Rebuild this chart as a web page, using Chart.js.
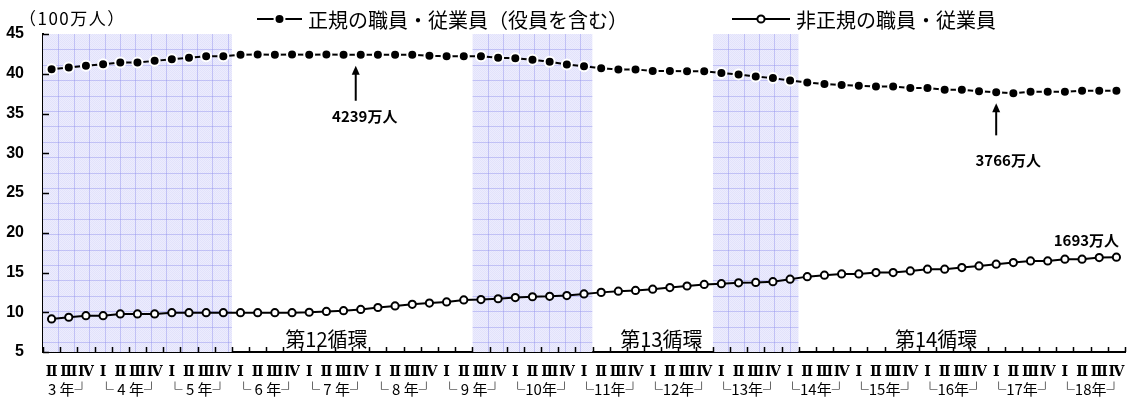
<!DOCTYPE html>
<html lang="ja">
<head>
<meta charset="utf-8">
<script src="https://cdn.jsdelivr.net/npm/chart.js@4.4.1/dist/chart.umd.min.js"></script>
<style>
  html, body { margin: 0; padding: 0; background: #fff; }
  #wrap { position: relative; width: 1132px; height: 402px; }
</style>
</head>
<body>
<div id="wrap"><canvas id="chart" width="1132" height="402"></canvas></div>
<script>
// 四半期（平成3年Ⅱ期〜18年Ⅳ期）
const quarters = [
  "Ⅱ","Ⅲ","Ⅳ",
  "Ⅰ","Ⅱ","Ⅲ","Ⅳ", "Ⅰ","Ⅱ","Ⅲ","Ⅳ", "Ⅰ","Ⅱ","Ⅲ","Ⅳ", "Ⅰ","Ⅱ","Ⅲ","Ⅳ",
  "Ⅰ","Ⅱ","Ⅲ","Ⅳ", "Ⅰ","Ⅱ","Ⅲ","Ⅳ", "Ⅰ","Ⅱ","Ⅲ","Ⅳ", "Ⅰ","Ⅱ","Ⅲ","Ⅳ",
  "Ⅰ","Ⅱ","Ⅲ","Ⅳ", "Ⅰ","Ⅱ","Ⅲ","Ⅳ", "Ⅰ","Ⅱ","Ⅲ","Ⅳ", "Ⅰ","Ⅱ","Ⅲ","Ⅳ",
  "Ⅰ","Ⅱ","Ⅲ","Ⅳ", "Ⅰ","Ⅱ","Ⅲ","Ⅳ", "Ⅰ","Ⅱ","Ⅲ","Ⅳ"
];
const years = [
  3,3,3,
  4,4,4,4, 5,5,5,5, 6,6,6,6, 7,7,7,7,
  8,8,8,8, 9,9,9,9, 10,10,10,10, 11,11,11,11,
  12,12,12,12, 13,13,13,13, 14,14,14,14, 15,15,15,15,
  16,16,16,16, 17,17,17,17, 18,18,18,18
];
const yearLabels = {
  3: "3 年┘", 4: "└ 4 年┘", 5: "└ 5 年┘", 6: "└ 6 年┘", 7: "└ 7 年┘",
  8: "└ 8 年┘", 9: "└ 9 年┘", 10: "└10年┘", 11: "└11年┘", 12: "└12年┘",
  13: "└13年┘", 14: "└14年┘", 15: "└15年┘", 16: "└16年┘", 17: "└17年┘", 18: "└18年┘"
};
const categories = quarters.map((q, i) => years[i] + "年" + q);

// 正規の職員・従業員（役員を含む）（100万人）
const regular = [
  40.58, 40.79, 41.00,
  41.20, 41.41, 41.41, 41.62,
  41.83, 42.00, 42.20, 42.20,
  42.40, 42.42, 42.40, 42.41,
  42.40, 42.42, 42.40, 42.39,
  42.40, 42.40, 42.40, 42.25,
  42.20, 42.20, 42.20, 42.00,
  41.95, 41.75, 41.50, 41.15,
  40.95, 40.70, 40.55, 40.55,
  40.35, 40.35, 40.30, 40.30,
  40.10, 39.90, 39.65, 39.45,
  39.15, 38.90, 38.70, 38.60,
  38.50, 38.40, 38.40, 38.20,
  38.20, 38.00, 38.00, 37.80,
  37.66, 37.55, 37.75, 37.75,
  37.75, 37.85, 37.85, 37.85
];
// 非正規の職員・従業員（100万人）
const nonRegular = [
  9.16, 9.37, 9.57,
  9.57, 9.79, 9.79, 9.79,
  9.95, 9.95, 9.95, 9.95,
  9.95, 9.95, 9.95, 9.95,
  10.00, 10.10, 10.20, 10.35,
  10.60, 10.80, 11.00, 11.15,
  11.30, 11.55, 11.60, 11.70,
  11.85, 11.95, 12.00, 12.10,
  12.30, 12.50, 12.65, 12.75,
  12.90, 13.10, 13.30, 13.50,
  13.60, 13.70, 13.75, 13.85,
  14.16, 14.48, 14.66, 14.82,
  14.82, 14.99, 14.99, 15.20,
  15.42, 15.42, 15.62, 15.83,
  16.05, 16.25, 16.46, 16.46,
  16.68, 16.68, 16.88, 16.93
];

const yTicks = [5, 10, 15, 20, 25, 30, 35, 40, 45];

// 景気後退期（山〜谷）
const recessionPeriods = [["3年Ⅱ", "5年Ⅳ"], ["9年Ⅲ", "11年Ⅰ"], ["13年Ⅰ", "14年Ⅰ"]];
// 景気循環の名称と表示位置（四半期の位置、0.5 は四半期の境目）
const cycleNames = ["第12循環", "第13循環", "第14循環"];
const cycleAt = [["7年Ⅱ", 0], ["12年Ⅰ", 0.5], ["16年Ⅰ", 0.5]];

// 値を示す注記
const callouts = [
  { series: 0, at: "7年Ⅳ" },
  { series: 0, at: "17年Ⅰ" },
  { series: 1, at: "18年Ⅳ" }
];

const JP = '"Noto Sans CJK JP", "Noto Sans", sans-serif';

function manLabel(v) { return Math.round(v * 100) + "万人"; }

// 後退期の方眼網掛け
const bandPlugin = {
  id: 'recessionBands',
  beforeDatasetsDraw(chart) {
    const { ctx, chartArea: a, scales: { x } } = chart;
    const tile = document.createElement('canvas');
    tile.width = 2; tile.height = 2;
    const tctx = tile.getContext('2d');
    tctx.fillStyle = 'rgb(236,236,253)'; tctx.fillRect(0, 0, 2, 2);
    tctx.fillStyle = 'rgb(226,226,251)'; tctx.fillRect(0, 0, 1, 1); tctx.fillRect(1, 1, 1, 1);
    const pat = ctx.createPattern(tile, 'repeat');
    const cell = 15.4;
    recessionPeriods.forEach(([s, e]) => {
      const L = x.getPixelForValue(categories.indexOf(s) - 0.5);
      const R = x.getPixelForValue(categories.indexOf(e) + 0.5);
      ctx.save();
      ctx.beginPath(); ctx.rect(L, a.top, R - L, a.bottom - a.top); ctx.clip();
      ctx.fillStyle = pat; ctx.fillRect(L, a.top, R - L, a.bottom - a.top);
      ctx.strokeStyle = 'rgba(140,140,235,0.42)'; ctx.lineWidth = 1;
      ctx.beginPath();
      for (let gx = L + cell; gx < R; gx += cell) {
        const px = Math.round(gx) + 0.5; ctx.moveTo(px, a.top); ctx.lineTo(px, a.bottom);
      }
      for (let gy = a.top + cell; gy < a.bottom; gy += cell) {
        const py = Math.round(gy) + 0.5; ctx.moveTo(L, py); ctx.lineTo(R, py);
      }
      ctx.stroke();
      ctx.restore();
    });
  }
};

function drawMarker(ctx, ds, cx, cy) {
  ctx.beginPath();
  ctx.arc(cx, cy, ds.pointRadius, 0, Math.PI * 2);
  ctx.fillStyle = ds.pointBackgroundColor; ctx.fill();
  ctx.lineWidth = ds.pointBorderWidth; ctx.strokeStyle = ds.pointBorderColor; ctx.stroke();
}

function drawArrowUp(ctx, x, yTip, yEnd) {
  ctx.strokeStyle = '#000'; ctx.fillStyle = '#000'; ctx.lineWidth = 2;
  ctx.beginPath(); ctx.moveTo(x, yTip + 6); ctx.lineTo(x, yEnd); ctx.stroke();
  ctx.beginPath(); ctx.moveTo(x, yTip); ctx.lineTo(x - 4, yTip + 9); ctx.lineTo(x + 4, yTip + 9); ctx.closePath(); ctx.fill();
}

// 軸の内向き目盛・年区切り・凡例・注記
const annotPlugin = {
  id: 'annotations',
  afterDraw(chart) {
    const { ctx, chartArea: a, scales: { x, y } } = chart;
    ctx.save();
    // 内向き目盛
    ctx.strokeStyle = '#000'; ctx.lineWidth = 1.5;
    ctx.beginPath();
    for (let i = 0; i <= categories.length; i++) {
      const px = Math.round(x.getPixelForValue(i - 0.5)) + 0.5;
      ctx.moveTo(px, a.bottom); ctx.lineTo(px, a.bottom - 5);
    }
    yTicks.forEach(v => {
      const py = Math.round(y.getPixelForValue(v)) + 0.5;
      ctx.moveTo(a.left, py); ctx.lineTo(a.left + 6, py);
    });
    ctx.stroke();

    // 年ラベル
    ctx.fillStyle = '#000'; ctx.font = '15px ' + JP;
    ctx.textAlign = 'center'; ctx.textBaseline = 'middle';
    Object.keys(yearLabels).forEach(k => {
      const yr = Number(k);
      const first = years.indexOf(yr), last = years.lastIndexOf(yr);
      const cx = (x.getPixelForValue(first - 0.5) + x.getPixelForValue(last + 0.5)) / 2;
      ctx.fillText(yearLabels[k], cx, 389);
    });

    // 単位
    ctx.font = '17px ' + JP; ctx.textAlign = 'left';
    if ('letterSpacing' in ctx) ctx.letterSpacing = '1.5px';
    ctx.fillText("（100万人）", 19, 19);
    if ('letterSpacing' in ctx) ctx.letterSpacing = '0px';

    // 凡例
    const ds = chart.data.datasets;
    const legendItems = [
      { d: ds[0], x0: 257, x1: 302 },
      { d: ds[1], x0: 732, x1: 790 }
    ];
    ctx.font = '20px ' + JP;
    legendItems.forEach(it => {
      const ly = 19;
      ctx.strokeStyle = '#000'; ctx.lineWidth = 2;
      ctx.beginPath(); ctx.moveTo(it.x0, ly); ctx.lineTo(it.x1, ly); ctx.stroke();
      drawMarker(ctx, it.d, (it.x0 + it.x1) / 2, ly);
      ctx.fillStyle = '#000'; ctx.textAlign = 'left';
      ctx.fillText(it.d.label, it.x1 + 6, ly + 1);
    });

    // 景気循環名
    ctx.font = '20px ' + JP; ctx.textAlign = 'center';
    cycleNames.forEach((n, i) => {
      const [q, off] = cycleAt[i];
      ctx.fillText(n, x.getPixelForValue(categories.indexOf(q) + off), 339);
    });

    // 値の注記
    ctx.font = 'bold 15px ' + JP;
    const series = [regular, nonRegular];
    callouts.forEach((c, k) => {
      const idx = categories.indexOf(c.at);
      const v = series[c.series][idx];
      const px = x.getPixelForValue(idx), py = y.getPixelForValue(v);
      const txt = manLabel(v);
      ctx.textAlign = 'center';
      if (k === 0) {
        drawArrowUp(ctx, px - 5, py + 11, py + 46);
        ctx.fillText(txt, px + 4, py + 62);
      } else if (k === 1) {
        drawArrowUp(ctx, px, py + 11, py + 43);
        ctx.fillText(txt, px + 12, py + 68);
      } else {
        ctx.fillText(txt, px - 30, py - 17);
      }
    });
    ctx.restore();
  }
};

new Chart(document.getElementById('chart').getContext('2d'), {
  type: 'line',
  data: {
    labels: categories,
    datasets: [
      {
        label: "正規の職員・従業員（役員を含む）",
        data: regular,
        borderColor: '#000', borderWidth: 2, tension: 0,
        pointRadius: 5, pointBackgroundColor: '#000',
        pointBorderColor: '#fff', pointBorderWidth: 2
      },
      {
        label: "非正規の職員・従業員",
        data: nonRegular,
        borderColor: '#000', borderWidth: 2, tension: 0,
        pointRadius: 3.6, pointBackgroundColor: '#fff',
        pointBorderColor: '#000', pointBorderWidth: 2
      }
    ]
  },
  options: {
    responsive: false,
    animation: false,
    devicePixelRatio: 1,
    layout: { padding: { top: 34, right: 4, left: 0, bottom: 0 } },
    plugins: { legend: { display: false }, tooltip: { enabled: false } },
    scales: {
      x: {
        offset: true,
        grid: { display: false, drawTicks: false, tickLength: 0 },
        border: { display: true, color: '#000', width: 2 },
        ticks: {
          autoSkip: false, maxRotation: 0, minRotation: 0, padding: 0,
          color: '#000',
          font: { family: '"DejaVu Serif", "Noto Sans CJK JP", serif', size: 14, weight: 'bold', lineHeight: 2.85 },
          callback: (v, i) => quarters[i]
        },
        afterFit(s) { s.height = 50; }
      },
      y: {
        min: 5, max: 45,
        afterBuildTicks(s) { s.ticks = yTicks.map(v => ({ value: v })); },
        grid: { display: false, drawTicks: false, tickLength: 0 },
        border: { display: true, color: '#000', width: 2 },
        ticks: { padding: 19, color: '#000', font: { family: '"Liberation Sans", Arial, sans-serif', size: 16, weight: 'bold' } },
        afterFit(s) { s.width = 43; }
      }
    }
  },
  plugins: [bandPlugin, annotPlugin]
});
</script>
</body>
</html>
